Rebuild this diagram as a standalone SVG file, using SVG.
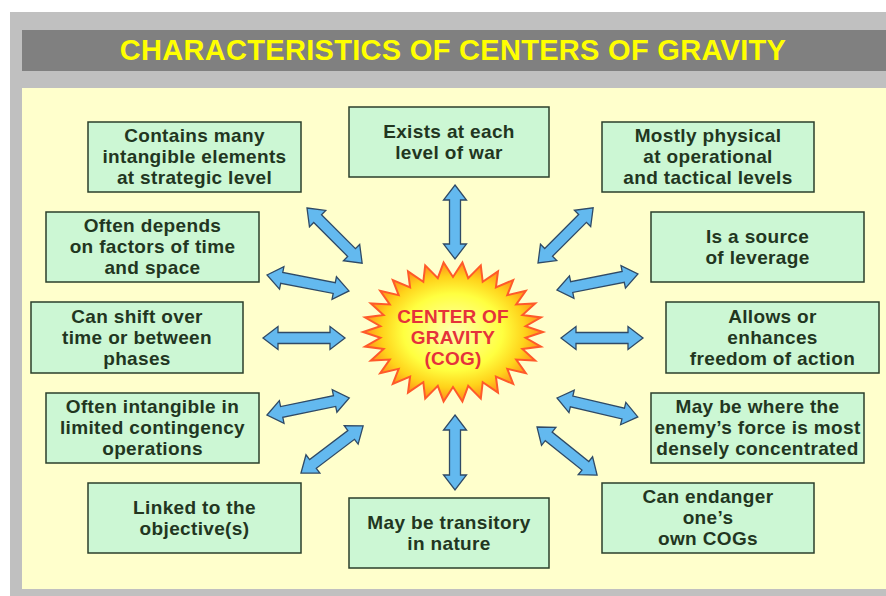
<svg xmlns="http://www.w3.org/2000/svg" width="886" height="596" viewBox="0 0 886 596">
<defs>
<radialGradient id="burst" cx="50%" cy="50%" r="50%">
<stop offset="0" stop-color="#ffffb0"/>
<stop offset="0.55" stop-color="#ffff40"/>
<stop offset="0.8" stop-color="#ffd21a"/>
<stop offset="1" stop-color="#ff8c1a"/>
</radialGradient>
</defs>
<style>
.box{fill:#ccf7d4;stroke:#2b3f2b;stroke-width:1.5}
.bt{font-family:"Liberation Sans",Arial,sans-serif;font-weight:bold;font-size:19px;letter-spacing:0.35px;fill:#22361f;text-anchor:middle}
.arr{fill:#63b9ef;stroke:#2f4a66;stroke-width:1.3;stroke-linejoin:miter}
.ct{font-family:"Liberation Sans",Arial,sans-serif;font-weight:bold;font-size:19px;letter-spacing:0.2px;fill:#e5323a;text-anchor:middle}
</style>
<rect x="10" y="12" width="876" height="584" fill="#c0c0c0"/>
<rect x="22" y="30" width="864" height="41" fill="#808080"/>
<text x="453" y="60" font-family="'Liberation Sans',Arial,sans-serif" font-weight="bold" font-size="29" letter-spacing="0.3" fill="#ffff00" text-anchor="middle">CHARACTERISTICS OF CENTERS OF GRAVITY</text>
<rect x="22" y="88" width="864" height="501" fill="#ffffcc"/>

<g id="connectors">
<path class="arr" transform="translate(455,185) rotate(90)" d="M0,0 L15,-11.5 L15,-5.5 L59,-5.5 L59,-11.5 L74,0 L59,11.5 L59,5.5 L15,5.5 L15,11.5 Z"/>
<path class="arr" transform="translate(455,415) rotate(90)" d="M0,0 L15,-11.5 L15,-5.5 L60,-5.5 L60,-11.5 L75,0 L60,11.5 L60,5.5 L15,5.5 L15,11.5 Z"/>
<path class="arr" transform="translate(307,208) rotate(45)" d="M0,0 L15,-11.5 L15,-5.5 L63,-5.5 L63,-11.5 L78,0 L63,11.5 L63,5.5 L15,5.5 L15,11.5 Z"/>
<path class="arr" transform="translate(267,275) rotate(11)" d="M0,0 L15,-11.5 L15,-5.5 L68.5,-5.5 L68.5,-11.5 L83.5,0 L68.5,11.5 L68.5,5.5 L15,5.5 L15,11.5 Z"/>
<path class="arr" transform="translate(263,338)" d="M0,0 L15,-11.5 L15,-5.5 L67,-5.5 L67,-11.5 L82,0 L67,11.5 L67,5.5 L15,5.5 L15,11.5 Z"/>
<path class="arr" transform="translate(267,415) rotate(-11.7)" d="M0,0 L15,-11.5 L15,-5.5 L69,-5.5 L69,-11.5 L84,0 L69,11.5 L69,5.5 L15,5.5 L15,11.5 Z"/>
<path class="arr" transform="translate(301,473) rotate(-37.2)" d="M0,0 L15,-11.5 L15,-5.5 L63,-5.5 L63,-11.5 L78,0 L63,11.5 L63,5.5 L15,5.5 L15,11.5 Z"/>
<path class="arr" transform="translate(538,263) rotate(-45)" d="M0,0 L15,-11.5 L15,-5.5 L63,-5.5 L63,-11.5 L78,0 L63,11.5 L63,5.5 L15,5.5 L15,11.5 Z"/>
<path class="arr" transform="translate(557,290) rotate(-11.2)" d="M0,0 L15,-11.5 L15,-5.5 L67.5,-5.5 L67.5,-11.5 L82.5,0 L67.5,11.5 L67.5,5.5 L15,5.5 L15,11.5 Z"/>
<path class="arr" transform="translate(561,338)" d="M0,0 L15,-11.5 L15,-5.5 L67,-5.5 L67,-11.5 L82,0 L67,11.5 L67,5.5 L15,5.5 L15,11.5 Z"/>
<path class="arr" transform="translate(557,398) rotate(13.2)" d="M0,0 L15,-11.5 L15,-5.5 L68,-5.5 L68,-11.5 L83,0 L68,11.5 L68,5.5 L15,5.5 L15,11.5 Z"/>
<path class="arr" transform="translate(537,427) rotate(38.7)" d="M0,0 L15,-11.5 L15,-5.5 L62,-5.5 L62,-11.5 L77,0 L62,11.5 L62,5.5 L15,5.5 L15,11.5 Z"/>
</g>

<g id="center">
<polygon transform="translate(453,332)" fill="url(#burst)" stroke="#ff5a2a" stroke-width="2" stroke-linejoin="miter" points="90,0 72.6,5.8 88,14.6 69.4,17 82.2,28.5 63.2,27.5 72.8,41.2 54.3,36.8 60.2,52 42.9,44.5 45,60.6 29.7,50.2 27.8,66.6 15.2,53.8 9.4,69.6 0,55 -9.4,69.6 -15.2,53.8 -27.8,66.6 -29.7,50.2 -45,60.6 -42.9,44.5 -60.2,52 -54.3,36.8 -72.8,41.2 -63.2,27.5 -82.2,28.5 -69.4,17 -88,14.6 -72.6,5.8 -90,0 -72.6,-5.8 -88,-14.6 -69.4,-17 -82.2,-28.5 -63.2,-27.5 -72.8,-41.2 -54.3,-36.8 -60.2,-52 -42.9,-44.5 -45,-60.6 -29.7,-50.2 -27.8,-66.6 -15.2,-53.8 -9.4,-69.6 0,-55 9.4,-69.6 15.2,-53.8 27.8,-66.6 29.7,-50.2 45,-60.6 42.9,-44.5 60.2,-52 54.3,-36.8 72.8,-41.2 63.2,-27.5 82.2,-28.5 69.4,-17 88,-14.6 72.6,-5.8"/>
<text class="ct" x="453" y="323">CENTER OF</text>
<text class="ct" x="453" y="344">GRAVITY</text>
<text class="ct" x="453" y="365">(COG)</text>
</g>

<g id="n1"><rect class="box" x="88" y="122" width="213" height="70"/>
<text class="bt" x="194.5" y="142">Contains many</text><text class="bt" x="194.5" y="163">intangible elements</text><text class="bt" x="194.5" y="184">at strategic level</text></g>

<g id="n2"><rect class="box" x="349" y="107" width="200" height="70"/>
<text class="bt" x="449" y="137.5">Exists at each</text><text class="bt" x="449" y="158.5">level of war</text></g>

<g id="n3"><rect class="box" x="602" y="122" width="212" height="70"/>
<text class="bt" x="708" y="142">Mostly physical</text><text class="bt" x="708" y="163">at operational</text><text class="bt" x="708" y="184">and tactical levels</text></g>

<g id="n4"><rect class="box" x="46" y="212" width="213" height="70"/>
<text class="bt" x="152.5" y="232">Often depends</text><text class="bt" x="152.5" y="253">on factors of time</text><text class="bt" x="152.5" y="274">and space</text></g>

<g id="n5"><rect class="box" x="651" y="212" width="213" height="70"/>
<text class="bt" x="757.5" y="242.5">Is a source</text><text class="bt" x="757.5" y="263.5">of leverage</text></g>

<g id="n6"><rect class="box" x="31" y="302" width="212" height="71"/>
<text class="bt" x="137" y="322.5">Can shift over</text><text class="bt" x="137" y="343.5">time or between</text><text class="bt" x="137" y="364.5">phases</text></g>

<g id="n7"><rect class="box" x="666" y="302" width="213" height="71"/>
<text class="bt" x="772.5" y="322.5">Allows or</text><text class="bt" x="772.5" y="343.5">enhances</text><text class="bt" x="772.5" y="364.5">freedom of action</text></g>

<g id="n8"><rect class="box" x="46" y="393" width="213" height="70"/>
<text class="bt" x="152.5" y="413">Often intangible in</text><text class="bt" x="152.5" y="434">limited contingency</text><text class="bt" x="152.5" y="455">operations</text></g>

<g id="n9"><rect class="box" x="651" y="393" width="213" height="70"/>
<text class="bt" x="757.5" y="413">May be where the</text><text class="bt" x="757.5" y="434">enemy’s force is most</text><text class="bt" x="757.5" y="455">densely concentrated</text></g>

<g id="n10"><rect class="box" x="88" y="483" width="213" height="70"/>
<text class="bt" x="194.5" y="513.5">Linked to the</text><text class="bt" x="194.5" y="534.5">objective(s)</text></g>

<g id="n11"><rect class="box" x="349" y="498" width="200" height="70"/>
<text class="bt" x="449" y="528.5">May be transitory</text><text class="bt" x="449" y="549.5">in nature</text></g>

<g id="n12"><rect class="box" x="602" y="483" width="212" height="70"/>
<text class="bt" x="708" y="503">Can endanger</text><text class="bt" x="708" y="524">one’s</text><text class="bt" x="708" y="545">own COGs</text></g>
</svg>
